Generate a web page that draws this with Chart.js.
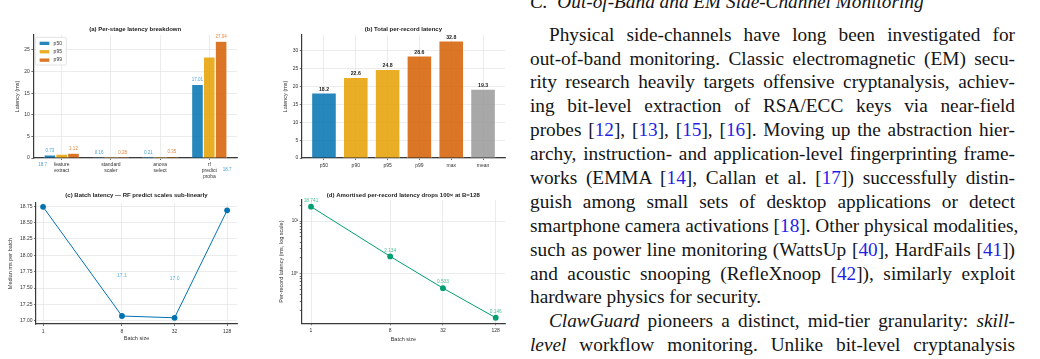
<!DOCTYPE html>
<html>
<head>
<meta charset="utf-8">
<script src="https://cdn.jsdelivr.net/npm/chart.js@4.4.1/dist/chart.umd.min.js"></script>
<style>
html, body { margin: 0; padding: 0; background: #fff; width: 1040px; height: 359px; overflow: hidden; }
body { position: relative; }
canvas { position: absolute; }
#text { position: absolute; left: 530px; top: 0; width: 485px; font-family: "Liberation Serif", "Times New Roman", serif; font-size: 19.3px; line-height: 23.9px; color: #141414; }
#text .h { position: absolute; left: 0; top: -10px; font-style: italic; white-space: nowrap; }
#text .body { position: absolute; left: 0; top: 22.7px; width: 485px; }
.l { white-space: nowrap; text-align: justify; text-align-last: justify; height: 23.9px; }
.l.last { text-align-last: left; }
.l.ind { text-indent: 19px; }
.c { color: #1f1fe6; }
</style>
</head>
<body>
<canvas id="chartA" width="250" height="185" style="left:0;top:0"></canvas>
<canvas id="chartB" width="270" height="185" style="left:245px;top:0"></canvas>
<canvas id="chartC" width="250" height="174" style="left:0;top:185px"></canvas>
<canvas id="chartD" width="270" height="174" style="left:245px;top:185px"></canvas>

<div id="text">
  <div class="h">C.&nbsp; Out-of-Band and EM Side-Channel Monitoring</div>
  <div class="body">
    <div class="l ind">Physical side-channels have long been investigated for</div>
    <div class="l">out-of-band monitoring. Classic electromagnetic (EM) secu-</div>
    <div class="l">rity research heavily targets offensive cryptanalysis, achiev-</div>
    <div class="l">ing bit-level extraction of RSA/ECC keys via near-field</div>
    <div class="l">probes [<span class="c">12</span>], [<span class="c">13</span>], [<span class="c">15</span>], [<span class="c">16</span>]. Moving up the abstraction hier-</div>
    <div class="l">archy, instruction- and application-level fingerprinting frame-</div>
    <div class="l">works (EMMA [<span class="c">14</span>], Callan et al. [<span class="c">17</span>]) successfully distin-</div>
    <div class="l">guish among small sets of desktop applications or detect</div>
    <div class="l">smartphone camera activations [<span class="c">18</span>]. Other physical modalities,</div>
    <div class="l">such as power line monitoring (WattsUp [<span class="c">40</span>], HardFails [<span class="c">41</span>])</div>
    <div class="l">and acoustic snooping (RefleXnoop [<span class="c">42</span>]), similarly exploit</div>
    <div class="l last">hardware physics for security.</div>
    <div class="l ind"><i>ClawGuard</i> pioneers a distinct, mid-tier granularity: <i>skill-</i></div>
    <div class="l"><i>level</i> workflow monitoring. Unlike bit-level cryptanalysis</div>
  </div>
</div>

<script>
// (a) per-stage latency
const stageLabels = [['feature', 'extract'], ['standard', 'scaler'], ['anova', 'select'], ['rf', 'predict', 'proba']];
const stageP50 = [0.73, 0.16, 0.21, 17.01];
const stageP95 = [0.90, 0.22, 0.27, 23.40];
const stageP99 = [1.12, 0.28, 0.35, 27.04];
const latencyTicks = [0, 5, 10, 15, 20, 25];

// (b) total per-record latency
const totalLabels = ['p50', 'p90', 'p95', 'p99', 'max', 'mean'];
const totalValues = [18.2, 22.6, 24.8, 28.6, 32.8, 19.3];
const totalTicks = [0, 5, 10, 15, 20, 25, 30];

// (c) + (d) batch sizes
const batchSizes = [1, 8, 32, 128];
const batchMedian = [18.741, 17.072, 17.045, 18.688];
const medianTicks = [17, 17.25, 17.5, 17.75, 18, 18.25, 18.5, 18.75];
const perRecord = [18.741, 2.134, 0.533, 0.146];
const logTicks = [0.2, 0.3, 0.4, 0.5, 0.6, 0.7, 0.8, 0.9, 1, 2, 3, 4, 5, 6, 7, 8, 9, 10, 20];

const SANS = '"Liberation Sans", Arial, sans-serif';
Chart.defaults.font.family = SANS;
Chart.defaults.font.size = 5;
Chart.defaults.color = '#333';
Chart.defaults.animation = false;

const BLUE = '#0072B2', SKY = '#56B4E9', GOLD = '#E69F00', VERM = '#D55E00', GREEN = '#009E73';
const fill = (hex, a) => {
  const n = parseInt(hex.slice(1), 16);
  return `rgba(${n >> 16},${(n >> 8) & 255},${n & 255},${a})`;
};
const fixTicks = list => s => { s.ticks = list.map(v => ({ value: v })); };

function titlePlugin(text, gap) {
  return {
    id: 'ttl',
    afterDraw(chart) {
      const { ctx, chartArea } = chart;
      ctx.save();
      ctx.font = 'bold 6px ' + SANS;
      ctx.fillStyle = '#222';
      ctx.textAlign = 'center';
      ctx.textBaseline = 'middle';
      ctx.fillText(text, (chartArea.left + chartArea.right) / 2, chartArea.top - gap);
      ctx.restore();
    }
  };
}

// value labels above each element of a dataset
function valuePlugin(sets) {
  return {
    id: 'vals',
    afterDatasetsDraw(chart) {
      const ctx = chart.ctx;
      ctx.save();
      ctx.textAlign = 'center';
      ctx.textBaseline = 'middle';
      sets.forEach(s => {
        ctx.font = s.font;
        ctx.fillStyle = s.color;
        chart.getDatasetMeta(s.index).data.forEach((el, i) => {
          const raw = chart.data.datasets[s.index].data[i];
          const v = typeof raw === 'object' ? raw.y : raw;
          ctx.fillText(s.fmt(v), el.x, el.y - s.lift);
        });
      });
      ctx.restore();
    }
  };
}

// free text placed at data coordinates
function notePlugin(notes) {
  return {
    id: 'notes',
    afterDatasetsDraw(chart) {
      const ctx = chart.ctx, sx = chart.scales.x, sy = chart.scales.y;
      ctx.save();
      ctx.textAlign = 'center';
      ctx.textBaseline = 'middle';
      notes.forEach(n => {
        ctx.font = n.font;
        ctx.fillStyle = n.color;
        ctx.fillText(n.text, sx.getPixelForValue(n.x), sy.getPixelForValue(n.y));
      });
      ctx.restore();
    }
  };
}

const legendPlugin = {
  id: 'boxLegend',
  afterDraw(chart) {
    const { ctx, chartArea } = chart;
    const x = chartArea.left + 2, y = chartArea.top + 2.3;
    ctx.save();
    ctx.fillStyle = 'rgba(255,255,255,0.9)';
    ctx.strokeStyle = '#d0d0d0';
    ctx.lineWidth = 0.6;
    ctx.beginPath();
    ctx.roundRect(x, y, 31, 27.7, 1.5);
    ctx.fill();
    ctx.stroke();
    ctx.font = '5px ' + SANS;
    ctx.textBaseline = 'middle';
    chart.data.datasets.forEach((ds, i) => {
      const cy = y + 6 + i * 8.4;
      ctx.fillStyle = ds.backgroundColor;
      ctx.fillRect(x + 4.3, cy - 1.6, 9.7, 3.3);
      ctx.fillStyle = '#333';
      ctx.fillText(ds.label, x + 18.3, cy);
    });
    ctx.restore();
  }
};

function axis(extra) {
  return Object.assign({
    border: { display: true, color: '#3a3a3a', width: 1.2 },
    grid: { color: '#e4e4e4', lineWidth: 0.7, drawTicks: true, tickLength: 2, tickColor: '#3a3a3a', offset: false },
    ticks: { padding: 1.5, autoSkip: false, maxRotation: 0, color: '#333', font: { size: 5 } }
  }, extra);
}
function yTitle(text, pad) {
  return { display: true, text: text, color: '#333', font: { size: 5.5 }, padding: { top: pad, bottom: 0 } };
}

// ---------- (a) ----------
new Chart(document.getElementById('chartA'), {
  type: 'bar',
  data: {
    datasets: [
      { label: 'p50', data: stageP50.map((v, i) => ({ x: i, y: v })), backgroundColor: fill(BLUE, 0.85) },
      { label: 'p95', data: stageP95.map((v, i) => ({ x: i, y: v })), backgroundColor: fill(GOLD, 0.85) },
      { label: 'p99', data: stageP99.map((v, i) => ({ x: i, y: v })), backgroundColor: fill(VERM, 0.85) }
    ].map(d => Object.assign(d, { borderColor: '#fff', borderWidth: 0.6, categoryPercentage: 0.72, barPercentage: 1 }))
  },
  options: {
    responsive: false,
    layout: { padding: { top: 35, right: 13, left: 0, bottom: 0 } },
    plugins: { legend: { display: false }, tooltip: { enabled: false } },
    scales: {
      x: axis({
        type: 'linear', offset: false, min: -0.577, max: 3.563,
        afterBuildTicks: fixTicks(stageLabels.map((_, i) => i)),
        afterFit: s => { s.height = 27; },
        ticks: { padding: 2, autoSkip: false, maxRotation: 0, font: { size: 5 }, color: '#333',
          callback: v => stageLabels[v] }
      }),
      y: axis({
        min: 0, max: 28.47,
        afterBuildTicks: fixTicks(latencyTicks),
        ticks: { padding: 1.5, font: { size: 5 }, color: '#333', callback: v => String(v) },
        afterFit: s => { s.width = 33.3; },
        title: yTitle('Latency (ms)', 13.7)
      })
    }
  },
  plugins: [
    titlePlugin('(a) Per-stage latency breakdown', 6),
    valuePlugin([
      { index: 0, font: '4.5px ' + SANS, color: '#4aa3db', lift: 4.5, fmt: v => v.toFixed(2) },
      { index: 2, font: '4.5px ' + SANS, color: '#e0873f', lift: 4.5, fmt: v => v.toFixed(2) }
    ]),
    notePlugin([
      { x: -0.386, y: -1.55, text: '18.7', color: '#4aa3db', font: '4.5px ' + SANS },
      { x: 3.36, y: -2.78, text: '18.7', color: '#4aa3db', font: '4.5px ' + SANS }
    ]),
    legendPlugin
  ]
});

// ---------- (b) ----------
const totalColors = [BLUE, GOLD, GOLD, VERM, VERM, '#999999'].map(c => fill(c, 0.85));
new Chart(document.getElementById('chartB'), {
  type: 'bar',
  data: {
    datasets: [{
      label: 'total', data: totalValues.map((v, i) => ({ x: i, y: v })),
      backgroundColor: totalColors, borderColor: '#fff', borderWidth: 0.6,
      categoryPercentage: 1, barPercentage: 0.78
    }]
  },
  options: {
    responsive: false,
    layout: { padding: { top: 35, right: 10, left: 0, bottom: 0 } },
    plugins: { legend: { display: false }, tooltip: { enabled: false } },
    scales: {
      x: axis({
        type: 'linear', offset: false, min: -0.70, max: 5.69,
        afterBuildTicks: fixTicks(totalLabels.map((_, i) => i)),
        afterFit: s => { s.height = 27; },
        ticks: { padding: 2.5, autoSkip: false, maxRotation: 0, font: { size: 5 }, color: '#333',
          callback: v => totalLabels[v] }
      }),
      y: axis({
        min: 0, max: 34.45,
        afterBuildTicks: fixTicks(totalTicks),
        ticks: { padding: 1.5, font: { size: 5 }, color: '#333', callback: v => String(v) },
        afterFit: s => { s.width = 56.7; },
        title: yTitle('Latency (ms)', 36.7)
      })
    }
  },
  plugins: [
    titlePlugin('(b) Total per-record latency', 6),
    valuePlugin([{ index: 0, font: 'bold 5.2px ' + SANS, color: '#222', lift: 3.6, fmt: v => v.toFixed(1) }])
  ]
});

// ---------- (c) ----------
new Chart(document.getElementById('chartC'), {
  type: 'line',
  data: {
    datasets: [{
      data: batchMedian.map((v, i) => ({ x: batchSizes[i], y: v })),
      borderColor: BLUE, backgroundColor: BLUE, borderWidth: 1,
      pointRadius: 2.9, pointBorderWidth: 0, tension: 0
    }]
  },
  options: {
    responsive: false,
    layout: { padding: { top: 18, right: 13, left: 0, bottom: 0 } },
    plugins: { legend: { display: false }, tooltip: { enabled: false } },
    scales: {
      x: axis({
        type: 'logarithmic', min: 0.83, max: 166,
        afterBuildTicks: fixTicks(batchSizes),
        afterFit: s => { s.height = 35; },
        ticks: { padding: 2.5, autoSkip: false, maxRotation: 0, font: { size: 5 }, color: '#333', callback: v => String(v) },
        title: { display: true, text: 'Batch size', color: '#333', font: { size: 5.5 }, padding: { top: 0, bottom: 17.7 } }
      }),
      y: axis({
        min: 16.95, max: 18.80,
        afterBuildTicks: fixTicks(medianTicks),
        ticks: { padding: 1.5, font: { size: 5 }, color: '#333', callback: v => Number(v).toFixed(2) },
        afterFit: s => { s.width = 36; },
        title: yTitle('Median ms per batch', 6.7)
      })
    }
  },
  plugins: [
    titlePlugin('(c) Batch latency \u2014 RF predict scales sub-linearly', 8),
    notePlugin([
      { x: 8, y: 17.69, text: '17.1', color: SKY, font: '5px ' + SANS },
      { x: 32, y: 17.65, text: '17.0', color: SKY, font: '5px ' + SANS }
    ])
  ]
});

// ---------- (d) ----------
new Chart(document.getElementById('chartD'), {
  type: 'line',
  data: {
    datasets: [{
      data: perRecord.map((v, i) => ({ x: batchSizes[i], y: v })),
      borderColor: GREEN, backgroundColor: GREEN, borderWidth: 1,
      pointRadius: 2.9, pointBorderWidth: 0, tension: 0
    }]
  },
  options: {
    responsive: false,
    layout: { padding: { top: 15, right: 10, left: 0, bottom: 0 } },
    plugins: { legend: { display: false }, tooltip: { enabled: false } },
    scales: {
      x: axis({
        type: 'logarithmic', min: 0.783, max: 163.3,
        afterBuildTicks: fixTicks(batchSizes),
        afterFit: s => { s.height = 35.7; },
        ticks: { padding: 2.5, autoSkip: false, maxRotation: 0, font: { size: 5 }, color: '#333', callback: v => String(v) },
        title: { display: true, text: 'Batch size', color: '#333', font: { size: 5.5 }, padding: { top: 0, bottom: 16.7 } }
      }),
      y: axis({
        type: 'logarithmic', min: 0.1146, max: 25.1,
        afterBuildTicks: fixTicks(logTicks),
        grid: {
          lineWidth: 0.7, drawTicks: true, tickLength: 2, tickColor: '#3a3a3a',
          color: c => (c.tick && (c.tick.value === 1 || c.tick.value === 10)) ? '#e4e4e4' : 'rgba(0,0,0,0)'
        },
        ticks: { padding: 1.5, autoSkip: false, font: { size: 4.5 }, color: '#333',
          callback: v => v === 1 ? '10\u2070' : (v === 10 ? '10\u00b9' : '') },
        afterFit: s => { s.width = 56.7; },
        title: yTitle('Per-record latency (ms, log scale)', 33.4)
      })
    }
  },
  plugins: [
    titlePlugin('(d) Amortised per-record latency drops 100\u00d7 at B=128', 5),
    valuePlugin([{ index: 0, font: '4.8px ' + SANS, color: '#4cbf98', lift: 6, fmt: v => v.toFixed(3) }])
  ]
});
</script>
</body>
</html>
